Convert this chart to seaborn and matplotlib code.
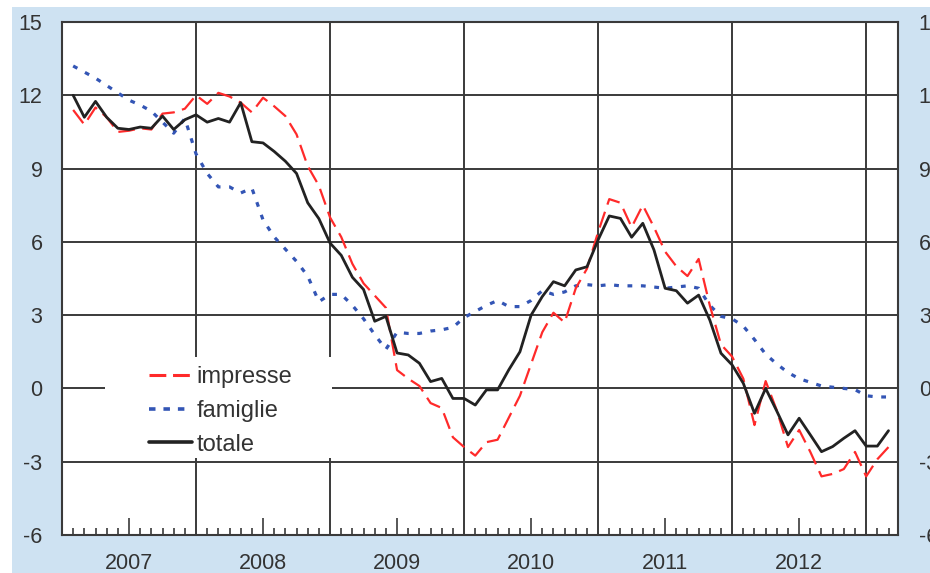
import numpy as np
import pandas as pd
import matplotlib
matplotlib.use("Agg")
import matplotlib.pyplot as plt
from matplotlib.patches import Rectangle
from matplotlib.lines import Line2D
import seaborn as sns

# ---------------- data (monthly, Jan 2007 - Feb 2013) ----------------
years = ["2007", "2008", "2009", "2010", "2011", "2012"]
month_index = list(range(1, 75))

totale = [12.0, 11.1, 11.75, 11.1, 10.65, 10.6, 10.7, 10.65, 11.15, 10.6, 11.0, 11.2,
          10.9, 11.05, 10.9, 11.7, 10.1, 10.05, 9.7, 9.3, 8.8, 7.6, 6.95, 5.95,
          5.45, 4.55, 4.05, 2.75, 2.95, 1.45, 1.37, 1.03, 0.28, 0.41, -0.41, -0.41,
          -0.68, -0.06, -0.06, 0.76, 1.5, 3.0, 3.76, 4.37, 4.2, 4.85, 4.98, 6.08,
          7.06, 6.96, 6.19, 6.76, 5.67, 4.1, 4.0, 3.49, 3.82, 2.8, 1.44, 0.96,
          0.21, -1.02, 0.0, -0.93, -1.9, -1.22, -1.9, -2.59, -2.38, -2.04, -1.73, -2.36,
          -2.36, -1.73]

impresse = [11.4, 10.8, 11.5, 11.1, 10.5, 10.55, 10.65, 10.6, 11.25, 11.3, 11.45, 12.0,
            11.65, 12.1, 11.95, 11.7, 11.3, 11.9, 11.55, 11.15, 10.4, 9.1, 8.3, 7.0,
            6.2, 5.1, 4.3, 3.8, 3.3, 0.75, 0.4, 0.1, -0.6, -0.8, -2.0, -2.4,
            -2.75, -2.2, -2.1, -1.2, -0.3, 1.0, 2.3, 3.1, 2.7, 4.1, 4.9, 6.4,
            7.75, 7.6, 6.6, 7.5, 6.6, 5.6, 5.0, 4.6, 5.3, 3.4, 1.8, 1.3,
            0.4, -1.5, 0.3, -0.9, -2.4, -1.7, -2.6, -3.6, -3.5, -3.3, -2.6, -3.6,
            -2.9, -2.4]

famiglie = [13.2, 12.95, 12.7, 12.4, 12.1, 11.8, 11.6, 11.35, 10.9, 10.45, 11.05, 9.6,
            8.8, 8.25, 8.25, 8.0, 8.2, 6.9, 6.2, 5.7, 5.2, 4.6, 3.55, 3.85,
            3.85, 3.4, 2.85, 2.2, 1.6, 2.3, 2.25, 2.25, 2.35, 2.4, 2.5, 2.9,
            3.15, 3.4, 3.6, 3.35, 3.35, 3.6, 4.0, 3.85, 3.95, 4.2, 4.25, 4.2,
            4.25, 4.2, 4.2, 4.2, 4.15, 4.1, 4.15, 4.2, 4.1, 3.4, 2.95, 2.85,
            2.55, 2.0, 1.4, 1.0, 0.65, 0.4, 0.25, 0.1, 0.05, 0.0, -0.05, -0.3,
            -0.35, -0.35]

y_ticks = [-6, -3, 0, 3, 6, 9, 12, 15]

# ---------------- style ----------------
sns.set_style("white")
plt.rcParams["font.family"] = ["Liberation Sans", "DejaVu Sans"]
TXT = "#333333"
GRID = "#3a3a3a"
BG = "#cee2f2"
RED = "#ff2a2a"
BLUE = "#3355b5"
BLACK = "#222222"

fig = plt.figure(figsize=(9.3, 5.73), dpi=100)
fig.patch.set_facecolor("white")
fig.patches.append(Rectangle((12 / 930, 0), 1, (573 - 7) / 573, transform=fig.transFigure,
                             facecolor=BG, edgecolor="none", zorder=-10))

ax = fig.add_axes([62 / 930, 38 / 573, 836 / 930, 513 / 573])
ax.set_facecolor("white")

df = pd.DataFrame({"k": month_index, "totale": totale,
                   "impresse": impresse, "famiglie": famiglie})

sns.lineplot(data=df, x="k", y="famiglie", ax=ax, color=BLUE, lw=2.3, zorder=3)
ax.lines[-1].set_dashes((1.5, 2.7))
sns.lineplot(data=df, x="k", y="impresse", ax=ax, color=RED, lw=1.6, zorder=4)
ax.lines[-1].set_dashes((7.5, 3.4))
sns.lineplot(data=df, x="k", y="totale", ax=ax, color=BLACK, lw=2.0, zorder=5)

ax.set_xlim(0, 74.85)
ax.set_ylim(-6, 15)
ax.set_xlabel("")
ax.set_ylabel("")

# y axis: labels on the left
ax.set_yticks(y_ticks)
ax.set_yticklabels([str(v) for v in y_ticks])
ax.tick_params(axis="y", which="both", left=False, right=False,
               labelleft=True, labelright=False, length=0, pad=14,
               labelsize=15.5, labelcolor=TXT)
ax.yaxis.grid(True, color=GRID, lw=1.4, zorder=0.5)
ax.set_axisbelow(True)

# right-hand labels (same scale)
axr = ax.twinx()
axr.set_ylim(ax.get_ylim())
axr.set_yticks(y_ticks)
axr.set_yticklabels([str(v) for v in y_ticks])
axr.tick_params(axis="y", right=False, length=0, pad=15, labelsize=15.5, labelcolor=TXT)
axr.grid(False)
axr.patch.set_visible(False)
for sp in axr.spines.values():
    sp.set_visible(False)

# x axis: year labels at mid-year (tall tick), monthly minor ticks
mid = [6 + 12 * i for i in range(len(years))]
ax.set_xticks(mid)
ax.set_xticklabels(years)
ax.set_xticks([m for m in month_index if m % 12 != 6 and m % 12 != 0], minor=True)
ax.tick_params(axis="x", which="major", direction="in", length=12.5, width=1.2,
               color=GRID, pad=13, labelsize=15.5, labelcolor=TXT, bottom=True, top=False)
ax.tick_params(axis="x", which="minor", direction="in", length=5, width=1.2,
               color=GRID, bottom=True, top=False)
ax.xaxis.grid(False)
for yb in range(12, 75, 12):
    ax.axvline(yb, color=GRID, lw=1.4, zorder=0.6)

for sp in ax.spines.values():
    sp.set_visible(True)
    sp.set_color(GRID)
    sp.set_linewidth(1.5)

# white box behind the legend (hides the grid)
ax.add_patch(Rectangle((43 / 836, 77 / 513), 227 / 836, 101 / 513, transform=ax.transAxes,
                       facecolor="white", edgecolor="none", zorder=1))

handles = [Line2D([], [], color=RED, lw=2.2, dashes=(5.5, 2.2)),
           Line2D([], [], color=BLUE, lw=2.6, dashes=(1.8, 2.2)),
           Line2D([], [], color=BLACK, lw=2.6)]
leg = ax.legend(handles, ["impresse", "famiglie", "totale"], loc="upper left",
                bbox_to_anchor=(87 / 836, 169 / 513), frameon=False, fontsize=17,
                handlelength=1.8, handletextpad=0.22, labelspacing=0.5,
                borderpad=0, borderaxespad=0)
for t in leg.get_texts():
    t.set_color(TXT)
leg.set_zorder(6)

fig.savefig("out.png", dpi=100, facecolor=fig.get_facecolor())
